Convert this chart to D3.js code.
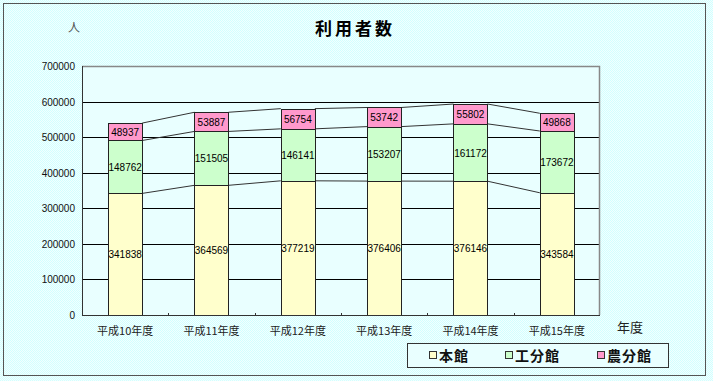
<!DOCTYPE html>
<html>
<head>
<meta charset="utf-8">
<script src="https://cdn.jsdelivr.net/npm/d3@7"></script>
<style>
  body { margin: 0; background: #e8ffff; }
  svg { display: block; }
</style>
</head>
<body>
<div id="chart"></div>
<script>
// data
var years = ['平成10年度', '平成11年度', '平成12年度', '平成13年度', '平成14年度', '平成15年度'];
var series = ['本館', '工分館', '農分館'];
var honkan = [341838, 364569, 377219, 376406, 376146, 343584];
var kobunkan = [148762, 151505, 146141, 153207, 161172, 173672];
var nobunkan = [48937, 53887, 56754, 53742, 55802, 49868];
var yTicks = [0, 100000, 200000, 300000, 400000, 500000, 600000, 700000];
var colors = ['#ffffcc', '#ccffcc', '#ff99cc'];

var W = 713, H = 381;
var margin = {top: 66, right: 113, bottom: 66, left: 82},
    width = W - margin.left - margin.right,
    height = H - margin.top - margin.bottom;

var rows = years.map(function(y, i){
    return {year: y, '本館': honkan[i], '工分館': kobunkan[i], '農分館': nobunkan[i]};
});
var stacked = d3.stack().keys(series)(rows);

var svg = d3.select('#chart').append('svg')
    .attr('width', W)
    .attr('height', H);

var defs = svg.append('defs');
var pat = defs.append('pattern')
    .attr('id', 'dither')
    .attr('width', 2).attr('height', 2)
    .attr('patternUnits', 'userSpaceOnUse');
pat.append('rect').attr('width', 2).attr('height', 2).attr('fill', '#f2ffff');
pat.append('rect').attr('width', 1).attr('height', 1).attr('fill', '#d2ffff');
pat.append('rect').attr('x', 1).attr('y', 1).attr('width', 1).attr('height', 1).attr('fill', '#d2ffff');

svg.append('rect')
    .attr('width', W).attr('height', H)
    .attr('fill', 'url(#dither)');

// outer frame
svg.append('rect')
    .attr('x', 3.5).attr('y', 3.5)
    .attr('width', 702).attr('height', 372)
    .attr('fill', 'none')
    .attr('stroke', '#555')
    .attr('stroke-width', 1);

svg.append('text')
    .attr('x', 355).attr('y', 35)
    .attr('text-anchor', 'middle')
    .attr('font-family', 'Noto Sans CJK JP')
    .attr('font-weight', 'bold')
    .attr('font-size', 17)
    .attr('letter-spacing', 3)
    .text('利用者数');

svg.append('text')
    .attr('x', 74).attr('y', 32)
    .attr('text-anchor', 'middle')
    .attr('font-family', 'Noto Sans CJK JP')
    .attr('font-size', 12)
    .attr('fill', '#555')
    .text('人');

var g = svg.append('g')
    .attr('transform', 'translate(' + margin.left + ',' + margin.top + ')');

var x = d3.scaleBand()
    .domain(years)
    .range([0, width])
    .paddingInner(0.606)
    .paddingOuter(0.303);

var y = d3.scaleLinear()
    .domain([0, 700000])
    .range([height, 0]);

// plot area
g.append('rect')
    .attr('width', width).attr('height', height)
    .attr('fill', '#e9ffff');

// gridlines
g.selectAll('.grid')
    .data(yTicks.slice(1, -1))
    .enter().append('line')
    .attr('x1', 0).attr('x2', width)
    .attr('y1', function(d){ return Math.round(y(d)) + 0.5; })
    .attr('y2', function(d){ return Math.round(y(d)) + 0.5; })
    .attr('stroke', '#000');

// plot border top and right
g.append('path')
    .attr('d', 'M0,0.5H' + (width - 0.5) + 'V' + height)
    .attr('fill', 'none')
    .attr('stroke', '#888')
    .attr('stroke-width', 1.5);

// series lines between bars
stacked.forEach(function(s){
    for (var i = 0; i < years.length - 1; i++) {
        g.append('line')
            .attr('x1', x(years[i]) + x.bandwidth())
            .attr('x2', x(years[i + 1]))
            .attr('y1', y(s[i][1]))
            .attr('y2', y(s[i + 1][1]))
            .attr('stroke', '#333');
    }
});

// bars
var layers = g.selectAll('.layer')
    .data(stacked)
    .enter().append('g')
    .attr('fill', function(d, i){ return colors[i]; });

layers.selectAll('rect')
    .data(function(d){ return d; })
    .enter().append('rect')
    .attr('x', function(d){ return Math.round(x(d.data.year)) + 0.5; })
    .attr('y', function(d){ return Math.round(y(d[1])) + 0.5; })
    .attr('width', Math.round(x.bandwidth()))
    .attr('height', function(d){ return Math.round(y(d[0])) - Math.round(y(d[1])); })
    .attr('stroke', '#222')
    .attr('stroke-width', 1);

layers.selectAll('text')
    .data(function(d){ return d; })
    .enter().append('text')
    .attr('x', function(d){ return x(d.data.year) + x.bandwidth() / 2; })
    .attr('y', function(d){ return (y(d[0]) + y(d[1])) / 2 + 4; })
    .attr('text-anchor', 'middle')
    .attr('font-family', 'Liberation Sans')
    .attr('font-size', 10)
    .attr('fill', '#000')
    .text(function(d){ return d[1] - d[0]; });

// y axis
g.append('line')
    .attr('x1', 0.5).attr('x2', 0.5)
    .attr('y1', 0).attr('y2', height)
    .attr('stroke', '#333');

g.selectAll('.ylab')
    .data(yTicks)
    .enter().append('text')
    .attr('x', -7)
    .attr('y', function(d){ return y(d) + 4; })
    .attr('text-anchor', 'end')
    .attr('font-family', 'Liberation Sans')
    .attr('font-size', 10)
    .attr('fill', '#111')
    .text(function(d){ return d; });

// x axis
g.append('line')
    .attr('x1', 0).attr('x2', width)
    .attr('y1', height + 0.5).attr('y2', height + 0.5)
    .attr('stroke', '#333');

g.selectAll('.xtick')
    .data(d3.range(1, years.length))
    .enter().append('line')
    .attr('x1', function(d){ return Math.round(d * x.step()) + 0.5; })
    .attr('x2', function(d){ return Math.round(d * x.step()) + 0.5; })
    .attr('y1', height - 2).attr('y2', height)
    .attr('stroke', '#333');

g.selectAll('.xlab')
    .data(years)
    .enter().append('text')
    .attr('x', function(d){ return x(d) + x.bandwidth() / 2; })
    .attr('y', height + 20)
    .attr('text-anchor', 'middle')
    .attr('font-family', 'Noto Sans CJK JP')
    .attr('font-size', 11)
    .attr('fill', '#222')
    .text(function(d){ return d; });

svg.append('text')
    .attr('x', 630).attr('y', 332)
    .attr('text-anchor', 'middle')
    .attr('font-family', 'Noto Sans CJK JP')
    .attr('font-size', 13)
    .attr('fill', '#222')
    .text('年度');

// legend
var legend = svg.append('g').attr('transform', 'translate(407,343)');
legend.append('rect')
    .attr('x', 0.5).attr('y', 0.5)
    .attr('width', 261).attr('height', 24)
    .attr('fill', '#e9ffff')
    .attr('stroke', '#333');

var legendX = [22, 98, 190];
var items = legend.selectAll('.item')
    .data(series)
    .enter().append('g')
    .attr('transform', function(d, i){ return 'translate(' + legendX[i] + ',0)'; });

items.append('rect')
    .attr('x', 0.5).attr('y', 8.5)
    .attr('width', 7).attr('height', 7)
    .attr('fill', function(d, i){ return colors[i]; })
    .attr('stroke', '#333');

items.append('text')
    .attr('x', 10).attr('y', 18)
    .attr('font-family', 'Noto Sans CJK JP')
    .attr('font-weight', 'bold')
    .attr('font-size', 14)
    .attr('letter-spacing', 1)
    .attr('fill', '#111')
    .text(function(d){ return d; });
</script>
</body>
</html>
